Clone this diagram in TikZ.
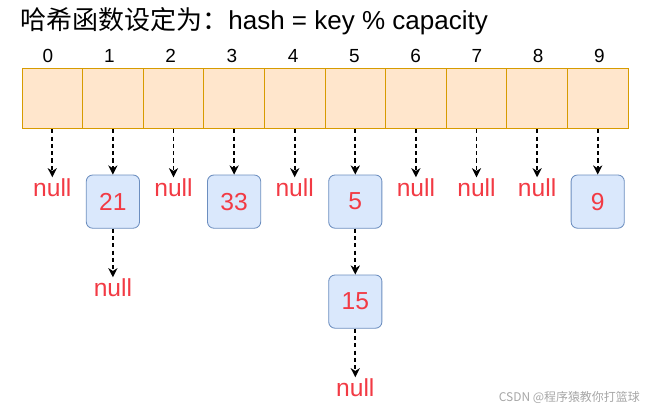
\documentclass[tikz,border=0pt]{standalone}
\usepackage{fontspec}
\setmainfont{Liberation Sans}
\newfontfamily\cjk{Noto Sans CJK SC}
\usetikzlibrary{arrows.meta}

\definecolor{cellfill}{HTML}{FFE6CC}
\definecolor{celldraw}{HTML}{D79B00}
\definecolor{boxfill}{HTML}{DAE8FC}
\definecolor{boxdraw}{HTML}{6C8EBF}
\definecolor{nullred}{HTML}{F23A44}

\begin{document}
\begin{tikzpicture}[scale=1.0]

%-------------------------------------------------
% Styles
%-------------------------------------------------
\tikzset{
  cell/.style={draw=celldraw, fill=cellfill, line width=0.7pt, minimum width=1.515cm, minimum height=1.515cm, inner sep=0pt},
  idx/.style={font=\fontsize{13.5}{16}\selectfont, inner sep=0pt},
  entry/.style={draw=boxdraw, fill=boxfill, rounded corners=4.5pt, line width=0.6pt, minimum width=1.33cm, minimum height=1.33cm, inner sep=0pt, text=nullred, font=\fontsize{17.5}{20}\selectfont},
  nil/.style={text=nullred, font=\fontsize{17.5}{20}\selectfont, inner sep=1pt},
  link/.style={draw=black, dashed, dash pattern=on 3pt off 2.2pt, line width=1.3pt, -{Stealth[length=6.5pt, width=6.5pt, inset=2pt]}}
}

% Canvas
\useasboundingbox (0,0) rectangle (16.25,-10.175);

%-------------------------------------------------
% Title
%-------------------------------------------------
\node[anchor=west, inner sep=0pt, font=\fontsize{18.5}{21}\selectfont] (title) at (0.5,-0.52) {{\cjk 哈希函数设定为：}hash = key \% capacity};

%-------------------------------------------------
% Bucket array
%-------------------------------------------------
\foreach \i in {0,...,9} {
  \node[cell] (c\i) at ({0.55+1.515*(\i+0.5)},-2.46) {};
  \node[idx] (i\i) at ({1.2+1.532*\i},-1.4) {\i};
}

%-------------------------------------------------
% First row: entries and nulls
%-------------------------------------------------
\node[nil]   (n0) at (c0 |- 0,-4.7)  {null};
\node[entry] (e1) at (c1 |- 0,-5.04) {21};
\node[nil]   (n2) at (c2 |- 0,-4.7)  {null};
\node[entry] (e3) at (c3 |- 0,-5.04) {33};
\node[nil]   (n4) at (c4 |- 0,-4.7)  {null};
\node[entry] (e5) at (c5 |- 0,-5.04) {5};
\node[nil]   (n6) at (c6 |- 0,-4.7)  {null};
\node[nil]   (n7) at (c7 |- 0,-4.7)  {null};
\node[nil]   (n8) at (c8 |- 0,-4.7)  {null};
\node[entry] (e9) at (c9 |- 0,-5.04) {9};

\foreach \a/\b in {c0/n0, c1/e1, c2/n2, c3/e3, c4/n4, c5/e5, c6/n6, c7/n7, c8/n8, c9/e9} {
  \draw[link] (\a) -- (\b);
}

%-------------------------------------------------
% Chains
%-------------------------------------------------
\node[nil]   (n1b) at (c1 |- 0,-7.2)  {null};
\node[entry] (e5b) at (c5 |- 0,-7.54) {15};
\node[nil]   (n5c) at (c5 |- 0,-9.7)  {null};

\draw[link] (e1) -- (n1b);
\draw[link] (e5) -- (e5b);
\draw[link] (e5b) -- (n5c);

% Watermark
\node[anchor=east, inner sep=0pt, text=gray!70, font=\cjk\fontsize{8.5}{10}\selectfont] (mark) at (16.0,-9.93) {CSDN @程序猿教你打篮球};

\end{tikzpicture}
\end{document}
